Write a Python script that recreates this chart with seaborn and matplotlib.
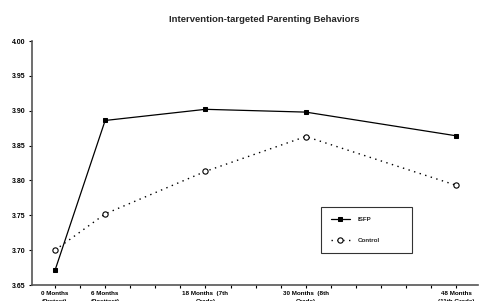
import matplotlib
matplotlib.use("Agg")
import matplotlib.pyplot as plt
import seaborn as sns
import pandas as pd

# Data
months = [0, 6, 18, 30, 48]
isfp = [3.671, 3.886, 3.902, 3.898, 3.864]
control = [3.700, 3.752, 3.813, 3.863, 3.793]
tick_months = [0, 6, 18, 30, 48]
tick_labels = ["0 Months\n(Pretest)", "6 Months\n(Posttest)", "18 Months  (7th\nGrade)",
               "30 Months  (8th\nGrade)", "48 Months\n(11th Grade)"]
y_ticks = [3.65, 3.70, 3.75, 3.80, 3.85, 3.90, 3.95, 4.00]

df = pd.DataFrame({"month": months, "ISFP": isfp, "Control": control})

sns.set_style("ticks")
plt.rcParams["font.family"] = ["Liberation Sans", "DejaVu Sans"]

fig = plt.figure(figsize=(4.79, 3.01), dpi=100)
ax = fig.add_axes([32 / 479, 16 / 301, 446 / 479, 244 / 301])

sns.lineplot(data=df, x="month", y="ISFP", ax=ax, color="black", linewidth=0.9,
             marker="s", markersize=3.2, markerfacecolor="black", markeredgecolor="black",
             label="ISFP")
sns.lineplot(data=df, x="month", y="Control", ax=ax, color="black", linewidth=1.0,
             linestyle=(0, (1.0, 3.2)), marker="o", markersize=3.8,
             markerfacecolor="white", markeredgecolor="black", markeredgewidth=0.8,
             label="Control")

ax.set_xlim(-2.75, 50.6)
ax.set_ylim(3.65, 4.00)
ax.set_yticks(y_ticks)
ax.set_yticklabels([f"{v:.2f}" for v in y_ticks], fontsize=5, fontweight="bold")
ax.set_xticks(range(0, 49, 3), minor=True)
ax.set_xticks(tick_months)
ax.set_xticklabels(tick_labels, fontsize=4.5, fontweight="bold", linespacing=1.6)
ax.tick_params(axis="both", which="both", direction="out", length=2.5, width=0.8,
               colors="black", pad=2)
ax.set_xlabel("")
ax.set_ylabel("")
for side in ["top", "right"]:
    ax.spines[side].set_visible(False)
for side in ["left", "bottom"]:
    ax.spines[side].set_color("#555555")
    ax.spines[side].set_linewidth(1.2)

ax.set_title("Intervention-targeted Parenting Behaviors", fontsize=6.8, fontweight="bold",
             x=0.52, y=1.0, pad=14)

leg = ax.legend(loc="lower left", bbox_to_anchor=(0.641, 0.119, 0.218, 0.192), mode="expand",
                fontsize=4.5, frameon=True, fancybox=False, edgecolor="black",
                handlelength=3.0, labelspacing=2.4, borderpad=1.6, handletextpad=1.3)
leg.get_frame().set_linewidth(0.8)
for t in leg.get_texts():
    t.set_fontweight("bold")

fig.savefig("out.png", dpi=100)
